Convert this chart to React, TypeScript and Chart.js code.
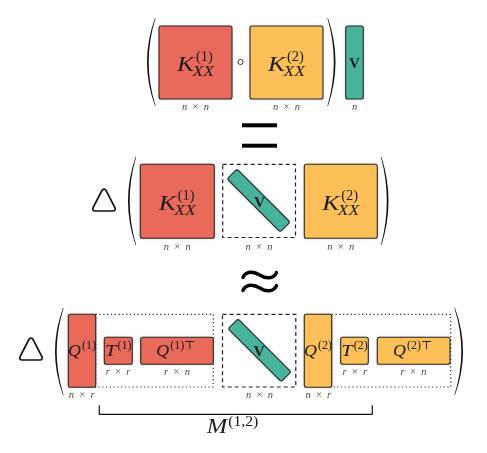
import { useEffect, useRef } from "react";
import { Chart, registerables } from "chart.js";

Chart.register(...registerables);

const W = 487;
const H = 453;
const RED = "#E96A5A";
const ORANGE = "#FDBF58";
const GREEN = "#47B39D";
const EDGE = "#2a2a2a";
const CAPTION = "#4a4a4a";
const FAMILY = '"Liberation Serif", "DejaVu Serif", serif';

type Style = "i" | "r" | "b";
type Run = [string, Style];

// ---- diagram layout (in diagram units, mapped through the chart scales) ----
const blocks = [
  { x0: 159, y0: 26, x1: 232, y1: 99, fill: RED },
  { x0: 250, y0: 26, x1: 323, y1: 99, fill: ORANGE },
  { x0: 345.7, y0: 26, x1: 363.3, y1: 99, fill: GREEN },
  { x0: 140.3, y0: 164.3, x1: 214.3, y1: 238.3, fill: RED },
  { x0: 304.3, y0: 164.3, x1: 377.3, y1: 238.3, fill: ORANGE },
  { x0: 68.3, y0: 314.3, x1: 95.7, y1: 387.3, fill: RED },
  { x0: 104.3, y0: 337.3, x1: 132.3, y1: 364.3, fill: RED },
  { x0: 140.7, y0: 337.3, x1: 213.3, y1: 364.3, fill: RED },
  { x0: 304.3, y0: 314.3, x1: 331.7, y1: 387.3, fill: ORANGE },
  { x0: 340.7, y0: 337.3, x1: 368.3, y1: 364.3, fill: ORANGE },
  { x0: 377.3, y0: 337.3, x1: 450, y1: 364.3, fill: ORANGE },
];

const diagBars = [
  { cx: 258.6, cy: 200.5, len: 75, wid: 14, angle: 45 },
  { cx: 259.6, cy: 350.3, len: 75, wid: 14, angle: 45 },
];

const dashedBoxes = [
  { x0: 222.7, y0: 164.3, x1: 295.5, y1: 237.5 },
  { x0: 222.5, y0: 314.3, x1: 295.8, y1: 387.0 },
];

const dottedBoxes = [
  { x0: 95.7, y0: 314.3, x1: 213.3, y1: 387.0 },
  { x0: 331.7, y0: 314.3, x1: 450.7, y1: 387.0 },
];

const parens = [
  { tip: 155, bulge: 147, y0: 18, y1: 106, side: "L" },
  { tip: 328, bulge: 335.5, y0: 18, y1: 106, side: "R" },
  { tip: 135.5, bulge: 128, y0: 157, y1: 245, side: "L" },
  { tip: 381.5, bulge: 388.5, y0: 157, y1: 245, side: "R" },
  { tip: 63, bulge: 55, y0: 308, y1: 395, side: "L" },
  { tip: 455, bulge: 463, y0: 308, y1: 395, side: "R" },
];

const triangles = [
  { cx: 104, top: 186.5, bottom: 211, half: 12.7 },
  { cx: 31, top: 335.5, bottom: 360, half: 12.7 },
];

const equalBars = [
  { x0: 242, x1: 277, y0: 123.3, y1: 127.3 },
  { x0: 242, x1: 277, y0: 143.7, y1: 147.7 },
];

const waves = [
  { x0: 243, x1: 276.5, yc: 275 },
  { x0: 243, x1: 276.5, yc: 288 },
];

const hadamard = { cx: 240.5, cy: 62, r: 2.6 };

const bracket = { x0: 99.3, x1: 372.3, y: 414.3, tick: 9 };

const K1: Run[] = [["K", "i"]];
const SUP1: Run[] = [["(1)", "r"]];
const SUP2: Run[] = [["(2)", "r"]];
const SUB_XX: Run[] = [["XX", "i"]];
const VEC: Run[] = [["V", "b"]];
const Q: Run[] = [["Q", "i"]];
const T: Run[] = [["T", "i"]];

const kLabel = { base: K1, sub: SUB_XX, size: 20.5, ss: 14.5, hb: 1.25, hs: 1.0, hsub: 1.22, supDy: -9.5, subDy: 5, supDx: 2, subDx: -1.5 };
const qLabel = { size: 17, ss: 11.5, hb: 1.05, hs: 1.05, hsub: 1, supDy: -7, subDy: 0, supDx: 1, subDx: 0 };
const tLabel = { size: 17, ss: 11.5, hb: 1.2, hs: 1.05, hsub: 1, supDy: -7, subDy: 0, supDx: 1, subDx: 0 };

const mathLabels = [
  { ...kLabel, cx: 195.5, by: 70.7, sup: SUP1 },
  { ...kLabel, cx: 286.5, by: 70.7, sup: SUP2 },
  { cx: 354.5, by: 68.3, base: VEC, size: 15, hb: 1 },
  { ...kLabel, cx: 177.3, by: 209.5, sup: SUP1 },
  { ...kLabel, cx: 340.8, by: 209.5, sup: SUP2 },
  { cx: 259.5, by: 207, base: VEC, size: 15.5, hb: 1 },
  { ...qLabel, cx: 82, by: 355.5, base: Q, sup: SUP1 },
  { ...tLabel, cx: 118.3, by: 355.7, base: T, sup: SUP1 },
  { ...qLabel, cx: 176, by: 355.7, base: Q, sup: [["(1)\u22A4", "r"]] as Run[] },
  { cx: 259, by: 355.7, base: VEC, size: 15.5, hb: 1 },
  { ...qLabel, cx: 318, by: 355.5, base: Q, sup: SUP2 },
  { ...tLabel, cx: 354.5, by: 355.7, base: T, sup: SUP2 },
  { ...qLabel, cx: 412.7, by: 355.7, base: Q, sup: [["(2)\u22A4", "r"]] as Run[] },
  { cx: 232.5, by: 433.3, base: [["M", "i"]] as Run[], sup: [["(1,2)", "r"]] as Run[], size: 20.5, ss: 15, hb: 1.2, hs: 1.05, hsub: 1, supDy: -7, subDy: 0, supDx: 1, subDx: 0 },
];

const dims = (a: string, b?: string): Run[] =>
  b === undefined ? [[a, "i"]] : [[a, "i"], ["\u2002\u00D7\u2002", "r"], [b, "i"]];

const captions = [
  { cx: 195.5, by: 110, runs: dims("n", "n") },
  { cx: 286.5, by: 110, runs: dims("n", "n") },
  { cx: 354.5, by: 110, runs: dims("n") },
  { cx: 177.3, by: 249.5, runs: dims("n", "n") },
  { cx: 259, by: 249.5, runs: dims("n", "n") },
  { cx: 340.8, by: 249.5, runs: dims("n", "n") },
  { cx: 81.7, by: 397.7, runs: dims("n", "r") },
  { cx: 118, by: 374.8, runs: dims("r", "r") },
  { cx: 177, by: 374.8, runs: dims("r", "n") },
  { cx: 259.5, by: 397.7, runs: dims("n", "n") },
  { cx: 318.3, by: 397.7, runs: dims("n", "r") },
  { cx: 354.7, by: 374.8, runs: dims("r", "r") },
  { cx: 413.5, by: 374.8, runs: dims("r", "n") },
];

function setFont(ctx: CanvasRenderingContext2D, s: Style, size: number) {
  ctx.font =
    s === "i" ? `italic ${size}px ${FAMILY}` : s === "b" ? `bold ${size}px ${FAMILY}` : `${size}px ${FAMILY}`;
}
function runsWidth(ctx: CanvasRenderingContext2D, runs: Run[], size: number, hsc = 1) {
  let w = 0;
  for (const [t, s] of runs) {
    setFont(ctx, s, size);
    w += ctx.measureText(t).width * hsc;
  }
  return w;
}
function drawRuns(ctx: CanvasRenderingContext2D, x: number, y: number, runs: Run[], size: number, hsc = 1) {
  ctx.textAlign = "left";
  ctx.textBaseline = "alphabetic";
  for (const [t, s] of runs) {
    setFont(ctx, s, size);
    ctx.save();
    ctx.translate(x, y);
    ctx.scale(hsc, 1);
    ctx.fillText(t, 0, 0);
    ctx.restore();
    x += ctx.measureText(t).width * hsc;
  }
}

const diagramPlugin = {
  id: "diagram",
  afterDatasetsDraw(chart: any) {
    const ctx: CanvasRenderingContext2D = chart.ctx;
    const xs = chart.scales.x;
    const ys = chart.scales.y;
    const X = (v: number) => xs.getPixelForValue(v);
    const Y = (v: number) => ys.getPixelForValue(v);
    const k = X(1) - X(0);
    ctx.save();

    // dotted and dashed frames
    ctx.strokeStyle = "#222";
    ctx.lineWidth = 1.2 * k;
    ctx.setLineDash([1.2 * k, 2.6 * k]);
    for (const b of dottedBoxes) {
      ctx.strokeRect(X(b.x0), Y(b.y0), X(b.x1) - X(b.x0), Y(b.y1) - Y(b.y0));
    }
    ctx.setLineDash([4 * k, 3 * k]);
    for (const b of dashedBoxes) {
      ctx.strokeRect(X(b.x0), Y(b.y0), X(b.x1) - X(b.x0), Y(b.y1) - Y(b.y0));
    }
    ctx.setLineDash([]);

    // blocks
    for (const b of blocks) {
      ctx.save();
      ctx.shadowColor = "rgba(0,0,0,0.35)";
      ctx.shadowBlur = 2.5 * k;
      ctx.fillStyle = b.fill;
      ctx.beginPath();
      ctx.roundRect(X(b.x0), Y(b.y0), X(b.x1) - X(b.x0), Y(b.y1) - Y(b.y0), 2 * k);
      ctx.fill();
      ctx.restore();
      ctx.strokeStyle = EDGE;
      ctx.lineWidth = 1.1 * k;
      ctx.beginPath();
      ctx.roundRect(X(b.x0), Y(b.y0), X(b.x1) - X(b.x0), Y(b.y1) - Y(b.y0), 2 * k);
      ctx.stroke();
    }

    // diagonal V bars
    for (const d of diagBars) {
      ctx.save();
      ctx.translate(X(d.cx), Y(d.cy));
      ctx.rotate((d.angle * Math.PI) / 180);
      ctx.shadowColor = "rgba(0,0,0,0.35)";
      ctx.shadowBlur = 2.5 * k;
      ctx.fillStyle = GREEN;
      ctx.beginPath();
      ctx.roundRect((-d.len / 2) * k, (-d.wid / 2) * k, d.len * k, d.wid * k, 2.2 * k);
      ctx.fill();
      ctx.shadowColor = "transparent";
      ctx.strokeStyle = EDGE;
      ctx.lineWidth = 1.1 * k;
      ctx.stroke();
      ctx.restore();
    }

    // parentheses
    ctx.fillStyle = "#111";
    for (const p of parens) {
      const ym = (p.y0 + p.y1) / 2;
      const dir = p.side === "L" ? 1 : -1;
      const th = 1.7;
      ctx.beginPath();
      ctx.moveTo(X(p.tip), Y(p.y0));
      ctx.quadraticCurveTo(X(2 * p.bulge - p.tip), Y(ym), X(p.tip), Y(p.y1));
      ctx.lineTo(X(p.tip + dir * 0.6), Y(p.y1));
      ctx.quadraticCurveTo(X(2 * (p.bulge + dir * th) - p.tip - dir * 0.6), Y(ym), X(p.tip + dir * 0.6), Y(p.y0));
      ctx.closePath();
      ctx.fill();
    }

    // triangles (Laplacian)
    ctx.strokeStyle = "#111";
    ctx.lineWidth = 1.7 * k;
    ctx.lineJoin = "round";
    for (const t of triangles) {
      const pts = [
        [X(t.cx), Y(t.top)],
        [X(t.cx + t.half), Y(t.bottom)],
        [X(t.cx - t.half), Y(t.bottom)],
      ];
      ctx.beginPath();
      const r = 2.2 * k;
      const mid = (a: number[], b: number[]) => [(a[0] + b[0]) / 2, (a[1] + b[1]) / 2];
      const start = mid(pts[2], pts[0]);
      ctx.moveTo(start[0], start[1]);
      for (let i = 0; i < 3; i++) {
        const p = pts[i];
        const n = pts[(i + 1) % 3];
        ctx.arcTo(p[0], p[1], n[0], n[1], r);
      }
      ctx.closePath();
      ctx.stroke();
    }

    // equals sign
    ctx.fillStyle = "#000";
    for (const e of equalBars) {
      ctx.fillRect(X(e.x0), Y(e.y0), X(e.x1) - X(e.x0), Y(e.y1) - Y(e.y0));
    }

    // approx sign
    ctx.strokeStyle = "#000";
    ctx.lineWidth = 3.5 * k;
    ctx.lineCap = "round";
    for (const w of waves) {
      const wd = w.x1 - w.x0;
      const xm = (w.x0 + w.x1) / 2;
      ctx.beginPath();
      ctx.moveTo(X(w.x0), Y(w.yc + 2.4));
      ctx.bezierCurveTo(X(w.x0 + 0.08 * wd), Y(w.yc - 3.8), X(w.x0 + 0.3 * wd), Y(w.yc - 4.4), X(xm), Y(w.yc));
      ctx.bezierCurveTo(X(xm + 0.2 * wd), Y(w.yc + 4.4), X(w.x1 - 0.08 * wd), Y(w.yc + 3.8), X(w.x1), Y(w.yc - 2.4));
      ctx.stroke();
    }
    ctx.lineCap = "butt";

    // hadamard circle
    ctx.lineWidth = 0.9 * k;
    ctx.strokeStyle = "#222";
    ctx.beginPath();
    ctx.arc(X(hadamard.cx), Y(hadamard.cy), hadamard.r * k, 0, Math.PI * 2);
    ctx.stroke();

    // bracket
    ctx.lineWidth = 1.2 * k;
    ctx.strokeStyle = "#111";
    ctx.beginPath();
    ctx.moveTo(X(bracket.x0), Y(bracket.y - bracket.tick));
    ctx.lineTo(X(bracket.x0), Y(bracket.y));
    ctx.lineTo(X(bracket.x1), Y(bracket.y));
    ctx.lineTo(X(bracket.x1), Y(bracket.y - bracket.tick));
    ctx.stroke();

    // math labels
    ctx.fillStyle = "#1a1a1a";
    for (const m of mathLabels as any[]) {
      const size = m.size * k;
      const ss = (m.ss || 0) * k;
      const wb = runsWidth(ctx, m.base, size, m.hb);
      const wsup = m.sup ? runsWidth(ctx, m.sup, ss, m.hs) + m.supDx * k : 0;
      const wsub = m.sub ? runsWidth(ctx, m.sub, ss, m.hsub) + m.subDx * k : 0;
      const total = wb + Math.max(wsup, wsub);
      const x0 = X(m.cx) - total / 2;
      const by = Y(m.by);
      drawRuns(ctx, x0, by, m.base, size, m.hb);
      if (m.sup) drawRuns(ctx, x0 + wb + m.supDx * k, by + m.supDy * k, m.sup, ss, m.hs);
      if (m.sub) drawRuns(ctx, x0 + wb + m.subDx * k, by + m.subDy * k, m.sub, ss, m.hsub);
    }

    // dimension captions
    ctx.fillStyle = CAPTION;
    for (const c of captions) {
      const size = 10.5 * k;
      const w = runsWidth(ctx, c.runs, size);
      drawRuns(ctx, X(c.cx) - w / 2, Y(c.by), c.runs, size);
    }

    ctx.restore();
  },
};

export default function App() {
  const ref = useRef<HTMLCanvasElement | null>(null);
  useEffect(() => {
    if (!ref.current) return;
    const chart = new Chart(ref.current, {
      type: "scatter",
      data: { datasets: [{ data: [], pointRadius: 0 }] },
      options: {
        animation: false,
        responsive: true,
        maintainAspectRatio: false,
        events: [],
        layout: { padding: 0 },
        plugins: { legend: { display: false }, tooltip: { enabled: false }, title: { display: false } },
        scales: {
          x: { type: "linear", min: 0, max: W, display: false },
          y: { type: "linear", min: 0, max: H, reverse: true, display: false },
        },
      },
      plugins: [diagramPlugin],
    } as any);
    return () => chart.destroy();
  }, []);
  return (
    <div style={{ position: "absolute", left: 0, top: 0, width: W, height: H, background: "#fff" }}>
      <canvas ref={ref} />
    </div>
  );
}
